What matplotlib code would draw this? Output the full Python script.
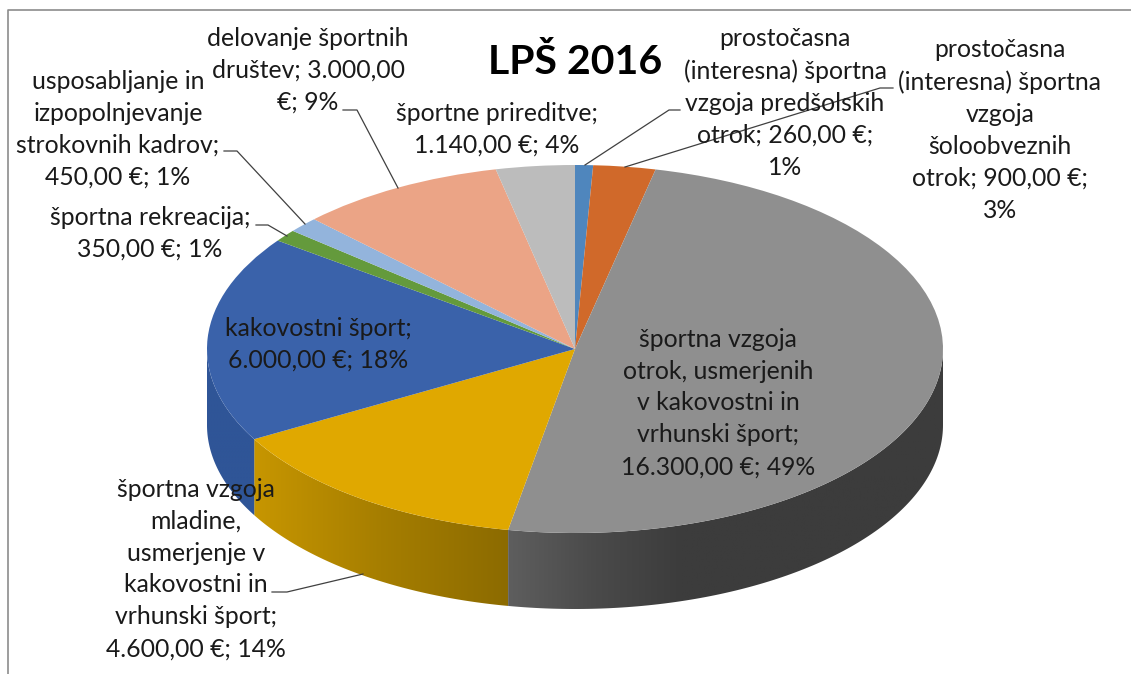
import numpy as np
import matplotlib
matplotlib.use('Agg')
import matplotlib.pyplot as plt
from matplotlib.colors import LinearSegmentedColormap
from matplotlib.patches import Polygon
from matplotlib.transforms import Affine2D

title = 'LPŠ 2016'

# clockwise from 12 o'clock
values = [260, 900, 16300, 4600, 6000, 350, 450, 3000, 1140]
colors = ['#4f86bd', '#d0692a', '#8f8f8f', '#e0a800', '#3a62aa',
          '#649a3c', '#93b4dc', '#eba486', '#bcbcbc']
labels = [
    'prostočasna\n(interesna) športna\nvzgoja predšolskih\notrok; 260,00 €;\n1%',
    'prostočasna\n(interesna) športna\nvzgoja\nšoloobveznih\notrok; 900,00 €;\n3%',
    'športna vzgoja\notrok, usmerjenih\nv kakovostni in\nvrhunski šport;\n16.300,00 €; 49%',
    'športna vzgoja\nmladine,\nusmerjenje v\nkakovostni in\nvrhunski šport;\n4.600,00 €; 14%',
    'kakovostni šport;\n6.000,00 €; 18%',
    'športna rekreacija;\n350,00 €; 1%',
    'usposabljanje in\nizpopolnjevanje\nstrokovnih kadrov;\n450,00 €; 1%',
    'delovanje športnih\ndruštev; 3.000,00\n€; 9%',
    'športne prireditve;\n1.140,00 €; 4%',
]

# label centres in picture pixels
label_x = [785, 1000, 718, 196, 318, 150, 118, 308, 497]
label_y = [103, 130, 403, 569, 344, 233, 129, 70, 129]

# leader lines in picture pixels, wedge end first
leaders = [
    [(585, 165), (669, 110), (680, 110)],
    [(625, 167), (880, 88), (893, 88)],
    [(363, 574), (287, 592), (272, 592)],
    [(287, 236), (268, 225), (256, 225)],
    [(305, 224), (237, 151), (224, 151)],
    [(398, 188), (357, 110), (343, 110)],
]

# side wall shading, slice index and colours left to right
walls = {
    2: ['#5e5e5e', '#4a4a4a', '#3c3c3c', '#3c3c3c', '#3c3c3c', '#3c3c3c'],
    3: ['#c79600', '#a67e00', '#8c6b00'],
    4: ['#2f5597', '#2f5597'],
}

W, H = 1131, 674
CX, CY, RX, RY, DEPTH = 575, 349, 368, 184, 76

plt.rcParams['font.family'] = ['Lato', 'DejaVu Sans']

fig = plt.figure(figsize=(W / 100, H / 100), dpi=100, facecolor='white')
ax = fig.add_axes([0, 0, 1, 1])

# pie in unit radius, axes stretched so that it comes out as an ellipse
ax.pie(values, colors=colors, startangle=90, counterclock=False, radius=1,
       wedgeprops={'linewidth': 0})
ax.set_aspect('auto')
ax.axis('off')

# side walls
fractions = np.cumsum([0] + values) / sum(values) * 2 * np.pi
depth = DEPTH / RY
for idx, stops in walls.items():
    a0 = max(fractions[idx], np.pi / 2)
    a1 = min(fractions[idx + 1], 3 * np.pi / 2)
    a = np.linspace(a0, a1, 120)
    x, y = np.sin(a), np.cos(a)
    outline = np.column_stack([np.r_[x, x[::-1]], np.r_[y, y[::-1] - depth]])
    cmap = LinearSegmentedColormap.from_list('wall', stops)
    grad = np.linspace(0, 1, 256).reshape(1, -1)
    im = ax.imshow(grad, cmap=cmap, aspect='auto', zorder=0,
                   extent=[x.min(), x.max(), (y - depth).min(), y.max()])
    im.set_clip_path(Polygon(outline, transform=ax.transData))
ax.set_xlim(-CX / RX, (W - CX) / RX)
ax.set_ylim((CY - H) / RY, CY / RY)

# texts and lines go in picture pixels
to_px = Affine2D().scale(1, -1).translate(0, H)

for line in leaders:
    xs, ys = zip(*line)
    ax.plot(xs, ys, color='#404040', lw=0.9, transform=to_px, zorder=5, clip_on=False)

for text, lx, ly in zip(labels, label_x, label_y):
    ax.text(lx, ly, text, transform=to_px, ha='center', va='center', fontsize=17.8,
            linespacing=1.47, color='#1a1a1a', zorder=6)

ax.text(575, 62, title, transform=to_px, ha='center', va='center', fontsize=29.5,
        fontweight='bold', color='black', zorder=6)

# chart frame, only top and left show in the crop
ax.plot([8, 8, W], [H, 10, 10], color='#8c8c8c', lw=1.2, transform=to_px, zorder=7)

fig.savefig('out.png', dpi=100)
